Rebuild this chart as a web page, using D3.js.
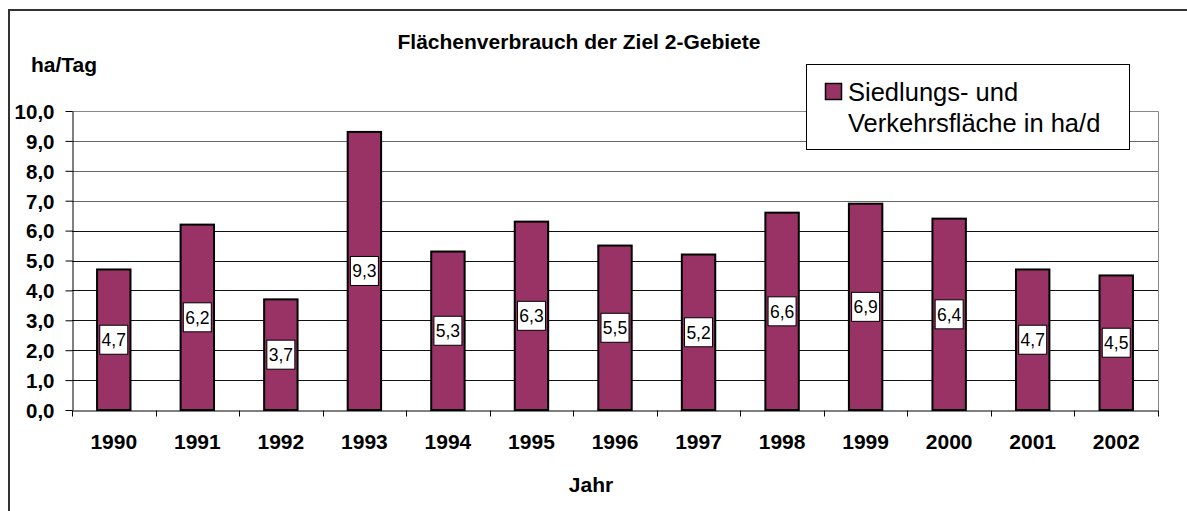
<!DOCTYPE html>
<html>
<head>
<meta charset="utf-8">
<script src="https://cdn.jsdelivr.net/npm/d3@7"></script>
<style>
  body { margin: 0; background: #fff; }
  svg { display: block; font-family: "Liberation Sans", Arial, sans-serif; }
</style>
</head>
<body>
<svg width="1187" height="511"></svg>
<script>
const years = ["1990", "1991", "1992", "1993", "1994", "1995", "1996", "1997", "1998", "1999", "2000", "2001", "2002"];
const values = [4.7, 6.2, 3.7, 9.3, 5.3, 6.3, 5.5, 5.2, 6.6, 6.9, 6.4, 4.7, 4.5];
const yTicks = [0, 1, 2, 3, 4, 5, 6, 7, 8, 9, 10];
const legendLines = ["Siedlungs- und", "Verkehrsfläche in ha/d"];

const svg = d3.select("svg");
const fmt = v => d3.format(".1f")(v).replace(".", ",");
const FONT = "Liberation Sans, Arial, sans-serif";

// outer frame (only top and left are inside the picture)
svg.append("rect")
    .attr("x", 9).attr("y", 10).attr("width", 1200).attr("height", 520)
    .attr("fill", "none").attr("stroke", "#333").attr("stroke-width", 2);

const plotL = 72, plotR = 1158, plotT = 111, plotB = 410;

const x = d3.scaleBand().domain(years).range([plotL, plotR]).paddingInner(0).paddingOuter(0);
const y = d3.scaleLinear().domain([0, 10]).range([plotB, plotT]);

// gridlines
svg.append("g")
    .selectAll("line")
    .data(yTicks.filter(d => d > 0))
    .join("line")
    .attr("x1", plotL).attr("x2", plotR)
    .attr("y1", d => Math.round(y(d)) + 0.5).attr("y2", d => Math.round(y(d)) + 0.5)
    .attr("stroke", d => d >= 7 ? "#666" : "#111");

// plot border top/right
svg.append("path")
    .attr("d", `M${plotL},${plotT + 0.5}H${plotR + 0.5}V${plotB}`)
    .attr("fill", "none").attr("stroke", "#888");

// bars
const barW = x.bandwidth() * 0.4;
svg.append("g")
    .selectAll("rect")
    .data(values)
    .join("rect")
    .attr("x", (d, i) => x(years[i]) + (x.bandwidth() - barW) / 2)
    .attr("y", d => y(d))
    .attr("width", barW)
    .attr("height", d => plotB - y(d))
    .attr("fill", "#993366")
    .attr("stroke", "#000")
    .attr("stroke-width", 2);

// y axis
const yAxis = svg.append("g")
    .attr("transform", `translate(${plotL + 0.5},0)`)
    .call(d3.axisLeft(y).tickValues(yTicks).tickFormat(fmt).tickSize(7).tickSizeOuter(0));
yAxis.select(".domain").attr("stroke", "#000");
yAxis.selectAll(".tick line").attr("stroke", "#000");
yAxis.selectAll(".tick text")
    .attr("font-family", FONT)
    .attr("font-size", 20.5).attr("font-weight", "bold").attr("fill", "#000")
    .attr("x", -18).attr("dy", "0.36em");

// x axis
const xAxis = svg.append("g")
    .attr("transform", `translate(0,${plotB + 0.5})`)
    .call(d3.axisBottom(x).tickSize(0).tickSizeOuter(0));
xAxis.select(".domain").attr("stroke", "#000");
xAxis.selectAll(".tick text")
    .attr("font-family", FONT)
    .attr("font-size", 21).attr("font-weight", "bold").attr("fill", "#000")
    .attr("y", 38).attr("dy", 0);
xAxis.append("g")
    .selectAll("line")
    .data(years.concat(["end"]))
    .join("line")
    .attr("x1", (d, i) => Math.round(plotL + i * x.bandwidth()) + 0.5)
    .attr("x2", (d, i) => Math.round(plotL + i * x.bandwidth()) + 0.5)
    .attr("y1", 0).attr("y2", 6)
    .attr("stroke", "#000");

// data labels
const lab = svg.append("g")
    .selectAll("g")
    .data(values)
    .join("g")
    .attr("transform", (d, i) => `translate(${x(years[i]) + x.bandwidth() / 2},${y(d / 2)})`);
lab.append("rect")
    .attr("x", -14).attr("y", -14.5).attr("width", 28).attr("height", 29)
    .attr("fill", "#fff").attr("stroke", "#000");
lab.append("text")
    .attr("text-anchor", "middle").attr("dy", "0.36em")
    .attr("font-size", 17.5)
    .text(d => fmt(d));

// title and axis titles
svg.append("text")
    .attr("x", 579).attr("y", 49).attr("text-anchor", "middle")
    .attr("font-size", 21).attr("font-weight", "bold")
    .text("Flächenverbrauch der Ziel 2-Gebiete");
svg.append("text")
    .attr("x", 31).attr("y", 72)
    .attr("font-size", 21).attr("font-weight", "bold")
    .text("ha/Tag");
svg.append("text")
    .attr("x", 591).attr("y", 492).attr("text-anchor", "middle")
    .attr("font-size", 21).attr("font-weight", "bold")
    .text("Jahr");

// legend
const lg = svg.append("g");
lg.append("rect")
    .attr("x", 806.5).attr("y", 64.5).attr("width", 323).attr("height", 85)
    .attr("fill", "#fff").attr("stroke", "#000");
lg.append("rect")
    .attr("x", 825.5).attr("y", 83.5).attr("width", 16).attr("height", 16)
    .attr("fill", "#993366").attr("stroke", "#000").attr("stroke-width", 1.5);
lg.append("text")
    .attr("font-size", 25.5)
    .selectAll("tspan")
    .data(legendLines)
    .join("tspan")
    .attr("x", 848)
    .attr("y", (d, i) => 100.5 + i * 31)
    .text(d => d);
</script>
</body>
</html>
